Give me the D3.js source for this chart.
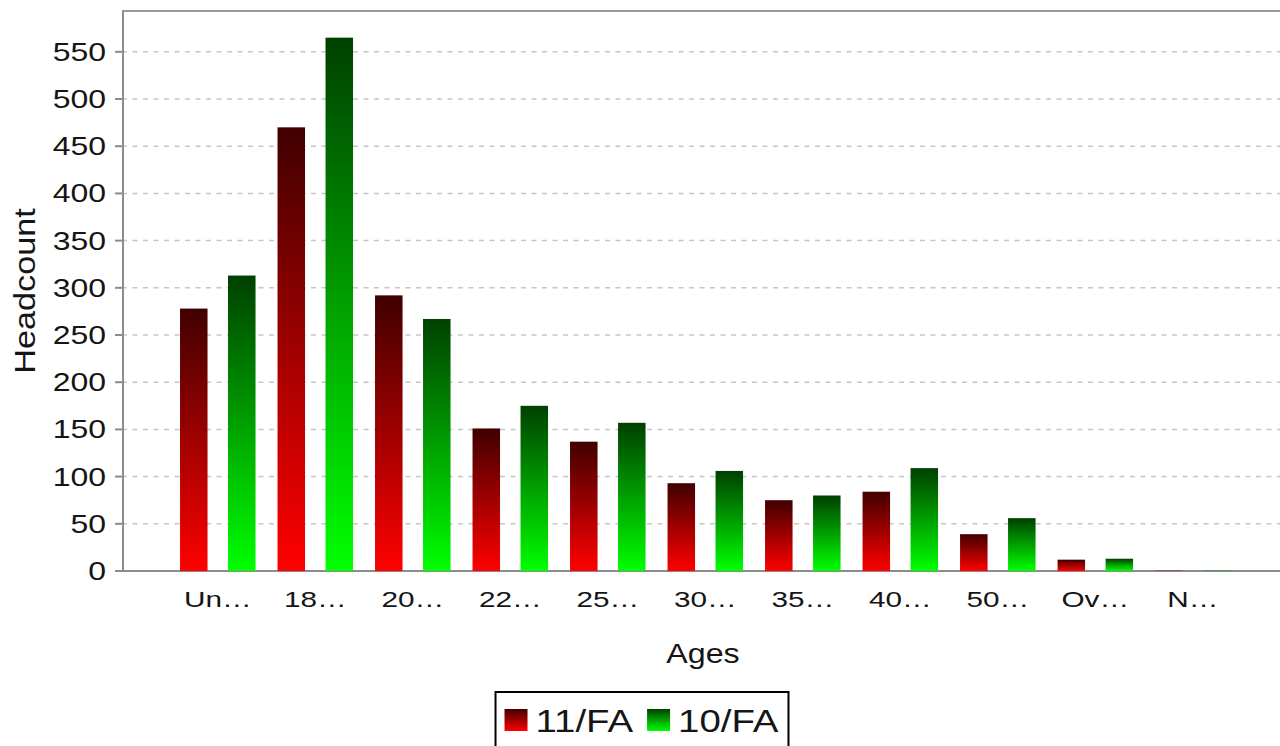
<!DOCTYPE html>
<html>
<head>
<meta charset="utf-8">
<script src="https://cdn.jsdelivr.net/npm/d3@7"></script>
<style>
  body { margin: 0; background: #fff; }
  svg { display: block; font-family: "Liberation Sans", Arial, sans-serif; }
</style>
</head>
<body>
<svg id="chart"></svg>
<script>
// ---- data ----
var categories = ["Un…", "18…", "20…", "22…", "25…", "30…", "35…", "40…", "50…", "Ov…", "N…"];
var seriesNames = ["11/FA", "10/FA"];
var fa11 = [278, 470, 292, 151, 137, 93, 75, 84, 39, 12, 0];
var fa10 = [313, 565, 267, 175, 157, 106, 80, 109, 56, 13, 0];
var yTicks = [0, 50, 100, 150, 200, 250, 300, 350, 400, 450, 500, 550];

// gradient colours per series (top -> bottom)
var seriesColors = [
    {id: "grad11", top: "#400000", bottom: "#ff0000"},
    {id: "grad10", top: "#004000", bottom: "#00ff00"}
];

function drawChart(position) {
    var width = 1280, height = 746;
    var plot = {left: 122, right: 1280, top: 11, bottom: 571};
    var textColor = "#151515", axisColor = "#8c8c8c";

    var svg = d3.select(position)
        .attr("width", width)
        .attr("height", height);

    // one gradient per series, stretched over each bar
    var defs = svg.append("defs");
    seriesColors.forEach(function(c) {
        var g = defs.append("linearGradient")
            .attr("id", c.id)
            .attr("x1", 0).attr("y1", 0)
            .attr("x2", 0).attr("y2", 1);
        g.append("stop").attr("offset", "0%").attr("stop-color", c.top);
        g.append("stop").attr("offset", "100%").attr("stop-color", c.bottom);
    });

    var data = categories.map(function(c, i) {
        return {cat: c, values: [fa11[i], fa10[i]]};
    });

    var x0 = d3.scaleBand()
        .domain(categories)
        .range([plot.left, plot.right])
        .paddingInner(0.2256)
        .paddingOuter(0.551)
        .align(0.54);

    var x1 = d3.scaleBand()
        .domain(d3.range(seriesNames.length))
        .range([0, x0.bandwidth()])
        .paddingInner(0.427);

    var yMax = d3.max(fa11.concat(fa10)) * 1.05;
    var y = d3.scaleLinear()
        .domain([0, yMax])
        .range([plot.bottom, plot.top]);

    // small helper: text that is a bit wider than the font draws it
    function wideText(parent, x, yy, str, size, k, anchor, rotate) {
        var t = "translate(" + x + "," + yy + ")" + (rotate ? " rotate(" + rotate + ")" : "") + " scale(" + k + ",1)";
        return parent.append("g")
            .attr("transform", t)
            .append("text")
            .attr("fill", textColor)
            .attr("font-size", size + "px")
            .attr("text-anchor", anchor)
            .text(str);
    }

    // grid lines
    svg.append("g")
        .selectAll("line")
        .data(yTicks.filter(function(d) { return d > 0; }))
        .enter().append("line")
        .attr("x1", plot.left)
        .attr("x2", plot.right)
        .attr("y1", function(d) { return y(d); })
        .attr("y2", function(d) { return y(d); })
        .attr("stroke", "#c6c6c6")
        .attr("stroke-width", 1.5)
        .attr("stroke-dasharray", "5,5.5");

    // frame top
    svg.append("line")
        .attr("x1", plot.left).attr("x2", plot.right)
        .attr("y1", plot.top).attr("y2", plot.top)
        .attr("stroke", "#9a9a9a")
        .attr("stroke-width", 2);

    // y axis line + ticks
    svg.append("line")
        .attr("x1", plot.left + 1).attr("x2", plot.left + 1)
        .attr("y1", plot.top).attr("y2", plot.bottom)
        .attr("stroke", axisColor)
        .attr("stroke-width", 2);

    var yAxis = svg.append("g");
    yTicks.forEach(function(v) {
        yAxis.append("line")
            .attr("x1", plot.left - 7).attr("x2", plot.left)
            .attr("y1", y(v)).attr("y2", y(v))
            .attr("stroke", axisColor)
            .attr("stroke-width", 2);
        wideText(yAxis, plot.left - 16, y(v) + 9, v, 25, 1.28, "end");
    });

    // x axis line
    svg.append("line")
        .attr("x1", plot.left - 7).attr("x2", plot.right)
        .attr("y1", plot.bottom).attr("y2", plot.bottom)
        .attr("stroke", axisColor)
        .attr("stroke-width", 2);

    // bars
    var groups = svg.append("g")
        .selectAll("g")
        .data(data)
        .enter().append("g")
        .attr("transform", function(d) { return "translate(" + x0(d.cat) + ",0)"; });

    groups.selectAll("rect")
        .data(function(d) { return d.values; })
        .enter().append("rect")
        .attr("x", function(d, i) { return x1(i); })
        .attr("width", x1.bandwidth())
        .attr("y", function(d) { return d > 0 ? y(d) : plot.bottom - 1; })
        .attr("height", function(d) { return d > 0 ? plot.bottom - y(d) : 1; })
        .attr("opacity", function(d) { return d > 0 ? 1 : 0.35; })
        .attr("fill", function(d, i) { return "url(#" + seriesColors[i].id + ")"; });

    // category labels
    var xAxis = svg.append("g");
    categories.forEach(function(c) {
        wideText(xAxis, x0(c) + x0.bandwidth() / 2, 607, c, 22, 1.35, "middle");
    });

    // axis titles
    wideText(svg, (plot.left + plot.right) / 2 + 2, 663, "Ages", 28, 1.15, "middle");
    wideText(svg, 35, (plot.top + plot.bottom) / 2, "Headcount", 30, 1.14, "middle", -90);

    // legend
    var legend = svg.append("g");
    var box = legend.append("rect")
        .attr("fill", "#fff")
        .attr("stroke", "#000")
        .attr("stroke-width", 2);
    var items = legend.append("g");
    var cursor = 0, k = 1.24;
    seriesNames.forEach(function(name, i) {
        if (i > 0) cursor += 14;
        items.append("rect")
            .attr("x", cursor)
            .attr("y", 709)
            .attr("width", 23)
            .attr("height", 22)
            .attr("fill", "url(#" + seriesColors[i].id + ")");
        cursor += 23 + 8;
        var t = wideText(items, cursor, 731.5, name, 31, k, "start");
        cursor += t.node().getComputedTextLength() * k;
    });
    var boxW = cursor + 9 + 10;
    var boxX = width / 2 + 2 - boxW / 2;
    items.attr("transform", "translate(" + (boxX + 9) + ",0)");
    box.attr("x", boxX).attr("y", 692)
        .attr("width", boxW).attr("height", 90);
}

drawChart("#chart");
</script>
</body>
</html>
